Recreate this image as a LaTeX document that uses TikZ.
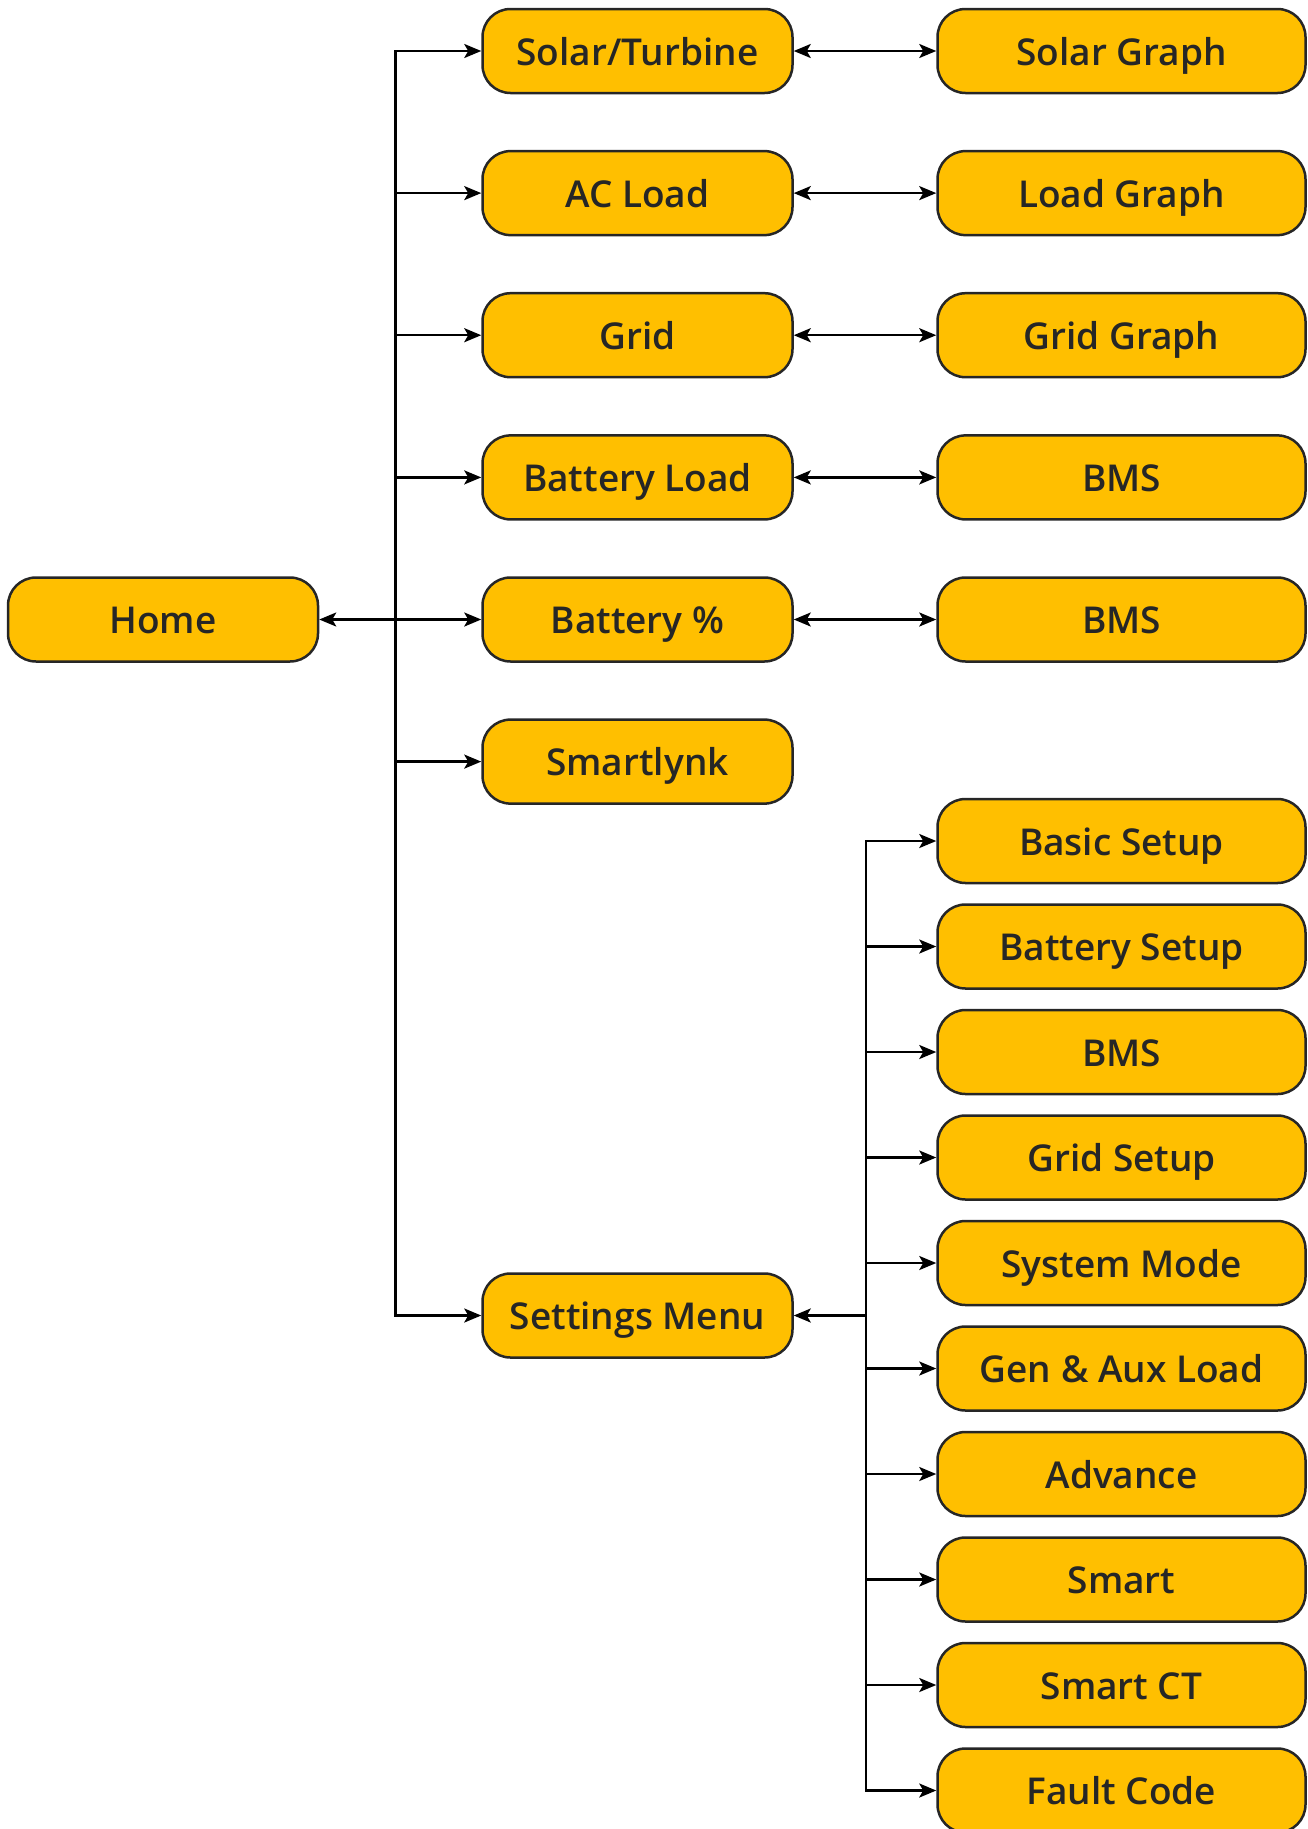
\documentclass[tikz,border=0pt]{standalone}
\usepackage{fontspec}
\setmainfont{Open Sans}[FontFace={sb}{n}{Font=* Semibold}]
\usetikzlibrary{arrows.meta}
\definecolor{boxfill}{HTML}{FFBF00}
\definecolor{boxline}{HTML}{262626}
\definecolor{textc}{HTML}{262626}
\tikzset{
  box/.style={draw=boxline, line width=2.5pt, fill=boxfill, rounded corners=28pt,
    minimum height=84pt, inner sep=0pt, text=textc,
    text height=28pt, text depth=0pt,
    font=\fontseries{sb}\fontsize{37}{44}\selectfont},
  lbox/.style={box, minimum width=310pt},
  rbox/.style={box, minimum width=368pt},
  conn/.style={line width=2.5pt, draw=black},
  tip/.tip={Stealth[length=17pt,width=14pt,inset=4pt]},
  toarr/.style={conn, -tip},
  bothar/.style={conn, tip-tip},
}
\begin{document}
\begin{tikzpicture}[x=1pt,y=-1pt]
\useasboundingbox (0,0) rectangle (1308,1829);
% left column
\node[lbox] (home) at (163,619.5) {Home};
\node[lbox] (solar) at (637.5,51) {Solar/Turbine};
\node[lbox] (acload) at (637.5,193.1) {AC Load};
\node[lbox] (grid) at (637.5,335.2) {Grid};
\node[lbox] (batload) at (637.5,477.4) {Battery Load};
\node[lbox] (batpct) at (637.5,619.5) {Battery \%};
\node[lbox] (smartlynk) at (637.5,761.6) {Smartlynk};
\node[lbox] (settings) at (637.5,1315.5) {Settings Menu};
% right column top
\node[rbox] (solargraph) at (1121.5,51) {Solar Graph};
\node[rbox] (loadgraph) at (1121.5,193.1) {Load Graph};
\node[rbox] (gridgraph) at (1121.5,335.2) {Grid Graph};
\node[rbox] (bmsa) at (1121.5,477.4) {BMS};
\node[rbox] (bmsb) at (1121.5,619.5) {BMS};
% settings submenu
\node[rbox] (basic) at (1121.5,841) {Basic Setup};
\node[rbox] (batsetup) at (1121.5,946.5) {Battery Setup};
\node[rbox] (bmsc) at (1121.5,1052) {BMS};
\node[rbox] (gridsetup) at (1121.5,1157.5) {Grid Setup};
\node[rbox] (sysmode) at (1121.5,1263) {System Mode};
\node[rbox] (genaux) at (1121.5,1368.5) {Gen \& Aux Load};
\node[rbox] (advance) at (1121.5,1474) {Advance};
\node[rbox] (smart) at (1121.5,1579.5) {Smart};
\node[rbox] (smartct) at (1121.5,1685) {Smart CT};
\node[rbox] (fault) at (1121.5,1790.5) {Fault Code};
% buses
\coordinate (lbus) at (395.5,619.5);
\coordinate (rbus) at (866,1315.5);
% home connections
\draw[bothar] (home) -- (batpct);
\foreach \n in {solar,acload,grid,batload,smartlynk,settings}
  \draw[toarr] (lbus) |- (\n.west);
% side pairs
\draw[bothar] (solar) -- (solargraph);
\draw[bothar] (acload) -- (loadgraph);
\draw[bothar] (grid) -- (gridgraph);
\draw[bothar] (batload) -- (bmsa);
\draw[bothar] (batpct) -- (bmsb);
% settings
\draw[toarr] (rbus) -- (settings.east);
\foreach \n in {basic,batsetup,bmsc,gridsetup,sysmode,genaux,advance,smart,smartct,fault}
  \draw[toarr] (rbus) |- (\n.west);
\end{tikzpicture}
\end{document}
